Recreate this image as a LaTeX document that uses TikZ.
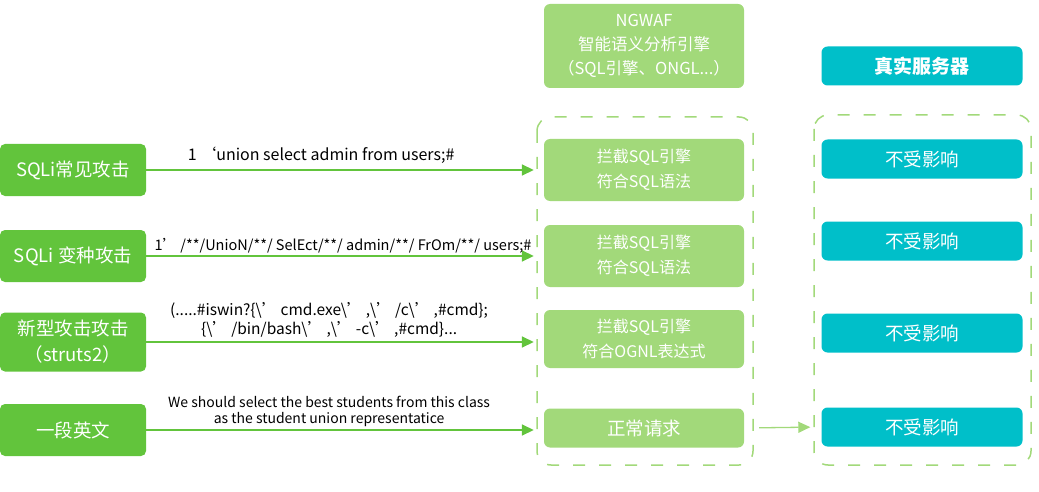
\documentclass[tikz,border=0pt]{standalone}
\usepackage{fontspec}
\setmainfont{Noto Sans CJK SC}
\usetikzlibrary{arrows.meta, positioning}
\definecolor{atkgreen}{RGB}{98,196,60}
\definecolor{wafgreen}{RGB}{162,217,122}
\definecolor{srvteal}{RGB}{0,191,201}

\begin{document}
\begin{tikzpicture}[x=1pt, y=-1pt,
  atk/.style={rectangle, rounded corners=5pt, fill=atkgreen, text=white, minimum width=146pt,
              minimum height=52pt, font=\fontsize{18.5}{26}\selectfont, align=center, inner sep=2pt},
  waf/.style={rectangle, rounded corners=6pt, fill=wafgreen, text=white, minimum width=200pt,
              font=\fontsize{16}{25}\selectfont, align=center, inner sep=2pt},
  srv/.style={rectangle, rounded corners=6pt, fill=srvteal, text=white, minimum width=201pt,
              minimum height=39pt, font=\fontsize{18.5}{22}\selectfont},
  zone/.style={draw=wafgreen, line width=1.5pt, dash pattern=on 12pt off 14pt, rounded corners=14pt},
  arrow/.style={-{Triangle[length=12pt, width=11pt]}, line width=1.6pt, atkgreen},
  code/.style={text=black, font=\fontsize{16}{19}\selectfont, inner sep=1pt, align=center}
]
\useasboundingbox (0,0) rectangle (1039,492);

% Attacks
\node[atk] (sqli) at (73,170) {SQLi常见攻击};
\node[atk] (vari) at (73,256) {SQLi 变种攻击};
\node[atk, minimum height=59pt] (strut) at (73,342) {新型攻击攻击\\（struts2）};
\node[atk] (eng) at (73,430) {一段英文};

% NGWAF
\node[waf, minimum height=84pt, font=\fontsize{16.5}{24}\selectfont] (ngwaf) at (644,46)
  {NGWAF\\智能语义分析引擎\\（SQL引擎、ONGL...）};
\draw[zone] (537,117) rectangle (753,465);
\node[waf, minimum height=62pt] (blka) at (644,170) {拦截SQL引擎\\符合SQL语法};
\node[waf, minimum height=62pt] (blkb) at (644,256) {拦截SQL引擎\\符合SQL语法};
\node[waf, minimum height=58pt] (blkc) at (644,339) {拦截SQL引擎\\符合OGNL表达式};
\node[waf, minimum height=39pt, font=\fontsize{18.5}{22}\selectfont] (pass) at (644,428) {正常请求};

% Real server
\node[srv, font=\fontsize{19}{22}\selectfont\bfseries] (server) at (922,66) {真实服务器};
\draw[zone] (814,115) rectangle (1031,465);
\node[srv] (srva) at (922,159) {不受影响};
\node[srv] (srvb) at (922,241) {不受影响};
\node[srv] (srvc) at (922,333) {不受影响};
\node[srv] (srvd) at (922,427) {不受影响};

% Arrows
\draw[arrow, shorten >=10pt] (sqli.east) -- node[code, above=5pt, pos=0.44]
  {1 ‘union select admin from users;\#} (sqli -| blka.west);
\draw[arrow, shorten >=10pt] (vari.east) -- node[code, above=1pt, pos=0.495, font=\fontsize{14.5}{17}\selectfont]
  {1’ /**/UnioN/**/ SelEct/**/ admin/**/ FrOm/**/ users;\#} (vari -| blkb.west);
\draw[arrow, shorten >=10pt] (strut.east) -- node[code, above=3pt, pos=0.46, font=\fontsize{15.5}{19}\selectfont]
  {(.....\#iswin?\{\textbackslash’ cmd.exe\textbackslash’ ,\textbackslash’ /c\textbackslash’ ,\#cmd\};\\
   \{\textbackslash’ /bin/bash\textbackslash’ ,\textbackslash’ -c\textbackslash’ ,\#cmd\}...} (strut -| blkc.west);
\draw[arrow, shorten >=10pt] (eng.east) -- node[code, above=1pt, pos=0.46, font=\fontsize{14}{16}\selectfont]
  {We should select the best students from this class\\as the student union representatice} (eng -| pass.west);
\draw[arrow, wafgreen, line width=1.3pt, shorten <=15pt, shorten >=11pt] (pass.east) -- (srvd.west);
\end{tikzpicture}
\end{document}
